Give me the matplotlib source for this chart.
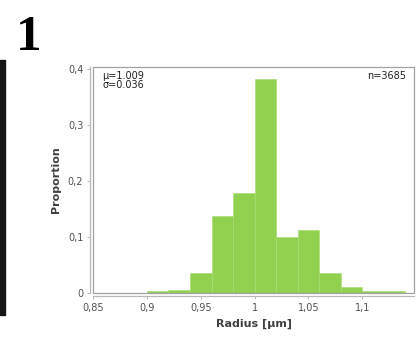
import matplotlib
matplotlib.use("Agg")
import matplotlib.pyplot as plt
import matplotlib.patches as mpatches
import numpy as np

bin_edges = [0.90, 0.92, 0.94, 0.96, 0.98, 1.00, 1.02, 1.04, 1.06, 1.08, 1.10, 1.12, 1.14]
proportions = [0.004, 0.005, 0.035, 0.1375, 0.178, 0.383, 0.0995, 0.1125, 0.035, 0.010, 0.004, 0.003]
xticks = [0.85, 0.9, 0.95, 1.0, 1.05, 1.1]
xtick_labels = ["0,85", "0,9", "0,95", "1", "1,05", "1,1"]
yticks = [0, 0.1, 0.2, 0.3, 0.4]
ytick_labels = ["0", "0,1", "0,2", "0,3", "0,4"]

fig = plt.figure(figsize=(4.17, 3.39), dpi=100)
ax = fig.add_axes([0.223, 0.136, 0.770, 0.666])

widths = np.diff(bin_edges)
ax.bar(bin_edges[:-1], proportions, width=widths, align="edge",
       color="#92d050", edgecolor="#a8dc70", linewidth=0.4)

ax.set_xlim(0.85, 1.148)
ax.set_ylim(0, 0.404)
ax.set_xticks(xticks)
ax.set_xticklabels(xtick_labels)
ax.set_yticks(yticks)
ax.set_yticklabels(ytick_labels)
ax.tick_params(axis="both", labelsize=7, colors="#505050", length=2.5, width=0.6,
               color="#b0b0b0")
ax.tick_params(axis="x", pad=2.5)
ax.tick_params(axis="y", pad=2)

# offset axis lines (left & bottom) plus a frame around the plot area
for side in ("left", "bottom"):
    ax.spines[side].set_position(("outward", 2.5))
    ax.spines[side].set_color("#b8b8b8")
    ax.spines[side].set_linewidth(0.9)
for side in ("top", "right"):
    ax.spines[side].set_visible(False)
ax.add_patch(mpatches.Rectangle((0, 0), 1, 1, transform=ax.transAxes, fill=False,
                                edgecolor="#a0a0a0", linewidth=0.9, clip_on=False, zorder=3))

ax.set_ylabel("Proportion", fontsize=8, fontweight="bold", color="#404040", labelpad=5)
ax.set_xlabel("Radius [µm]", fontsize=8, fontweight="bold", color="#404040", labelpad=4)

ax.text(0.03, 0.985, "μ=1.009\nσ=0.036", transform=ax.transAxes, fontsize=7,
        va="top", ha="left", color="#202020", linespacing=0.95)
ax.text(0.975, 0.985, "n=3685", transform=ax.transAxes, fontsize=7,
        va="top", ha="right", color="#202020")

# left black strip and panel number
fig.patches.append(mpatches.Rectangle((0, 1 - 315 / 339), 5 / 417, 255 / 339,
                                      transform=fig.transFigure, color="#151515"))
fig.text(29 / 417, 1 - 38 / 339, "1", fontsize=37, fontweight="bold",
         family="Liberation Serif", ha="center", va="center", color="black")

fig.savefig("out.png", dpi=100)
